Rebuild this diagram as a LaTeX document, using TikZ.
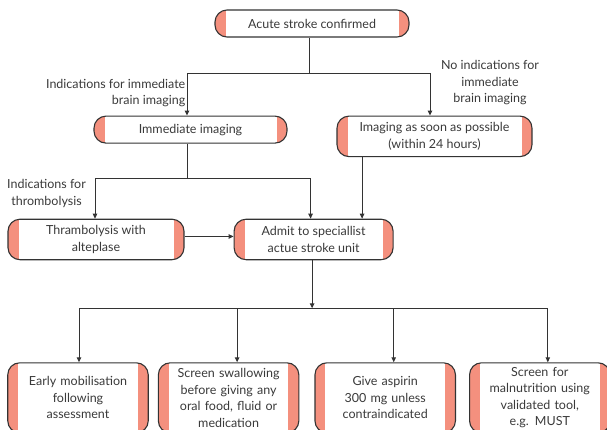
\documentclass[tikz,border=0pt]{standalone}
\usepackage{fontspec}
\setmainfont{Lato}
\usepackage{tikz}
\usetikzlibrary{arrows.meta, positioning}
\definecolor{salmon}{HTML}{F4907E}
\definecolor{ink}{HTML}{333333}
\definecolor{txt}{HTML}{3A3A3A}

\begin{document}
\begin{tikzpicture}[
        x=1pt, y=1pt,
        font=\fontsize{12.5}{16.5}\selectfont,
        >={Triangle[length=5pt, width=4.5pt]},
        box/.style={draw=ink, line width=1.1pt, rounded corners=12pt, fill=white, text=txt,
            align=center, inner sep=2pt, minimum height=27pt,
            path picture={
                \fill[salmon, sharp corners] (path picture bounding box.north west) rectangle ([xshift=10.5pt]path picture bounding box.south west);
                \fill[salmon, sharp corners] ([xshift=-10.5pt]path picture bounding box.north east) rectangle (path picture bounding box.south east);
            }},
        tall/.style={box, minimum height=40.5pt},
        care/.style={box, minimum height=70pt, minimum width=140.5pt, text width=124pt},
        lbl/.style={text=txt, inner sep=0pt},
        arrow/.style={->, draw=ink, line width=1pt}
    ]
        \useasboundingbox (0,0) rectangle (607,-429);

        \node[box, minimum width=194pt] (acute) at (312,-23.5) {Acute stroke confirmed};

        \node[box, minimum width=193pt, below=78pt of acute, xshift=-121.5pt] (immediate) {Immediate imaging};
        \node[tall, minimum width=195pt, below=78pt of acute, xshift=122.5pt] (asap) {
            Imaging as soon as possible\\
            (within 24 hours)
        };

        \node[tall, minimum width=176pt, below=75pt of immediate, xshift=-94.5pt] (thrombolysis) {
            Thrambolysis with\\
            alteplase
        };
        \node[tall, minimum width=159pt, right=49pt of thrombolysis] (admit) {
            Admit to speciallist\\
            actue stroke unit
        };

        \node[care, below=102pt of thrombolysis, xshift=-18pt] (mobilise) {
            Early mobilisation\\
            following\\
            assessment
        };
        \node[care, right=9pt of mobilise] (swallow) {
            Screen swallowing\\
            before giving any\\
            oral food, fluid or\\
            medication
        };
        \node[care, right=15pt of swallow] (aspirin) {
            Give aspirin\\
            300 mg unless\\
            contraindicated
        };
        \node[care, right=13pt of aspirin] (nutrition) {
            Screen for\\
            malnutrition using\\
            validated tool,\\
            e.g. MUST
        };

        \node[lbl, align=right, anchor=east] (immlbl) at ([shift={(-5pt,22.5pt)}]immediate.north) {
            Indications for immediate\\
            brain imaging
        };
        \node[lbl, align=center] (asaplbl) at ([shift={(55.5pt,33pt)}]asap.north) {
            No indications for\\
            immediate\\
            brain imaging
        };
        \node[lbl, align=center] (thrlbl) at ([shift={(-49.5pt,25pt)}]thrombolysis.north) {
            Indications for\\
            thrombolysis
        };

        \coordinate (split) at ([shift={(-3pt,-36pt)}]acute.south);
        \coordinate (immsplit) at ([shift={(-3.5pt,-35pt)}]immediate.south);
        \coordinate (admitsplit) at ([shift={(-1.5pt,-48pt)}]admit.south);
        \coordinate (admittop) at ([xshift=48.5pt]admit.north);

        \draw[arrow] ([xshift=-3pt]acute.south) -- (split) -| ([xshift=-3.5pt]immediate.north);
        \draw[arrow] (split) -| ([xshift=-4.5pt]asap.north);
        \draw[arrow] ([xshift=-3.5pt]immediate.south) -- (immsplit) -| ([xshift=-1pt]thrombolysis.north);
        \draw[arrow] (immsplit) -| ([xshift=-3pt]admit.north);
        \draw[arrow] (asap.south -| admittop) -- (admittop);
        \draw[arrow] ([yshift=3pt]thrombolysis.east) -- ([yshift=3pt]admit.west);
        \draw[arrow] ([xshift=-1.5pt]admit.south) -- (admitsplit);
        \foreach \target/\dx in {mobilise/1, swallow/8.5, aspirin/8.5, nutrition/8}
            \draw[arrow] (admitsplit) -| ([xshift=\dx pt]\target.north);
    \end{tikzpicture}
\end{document}
